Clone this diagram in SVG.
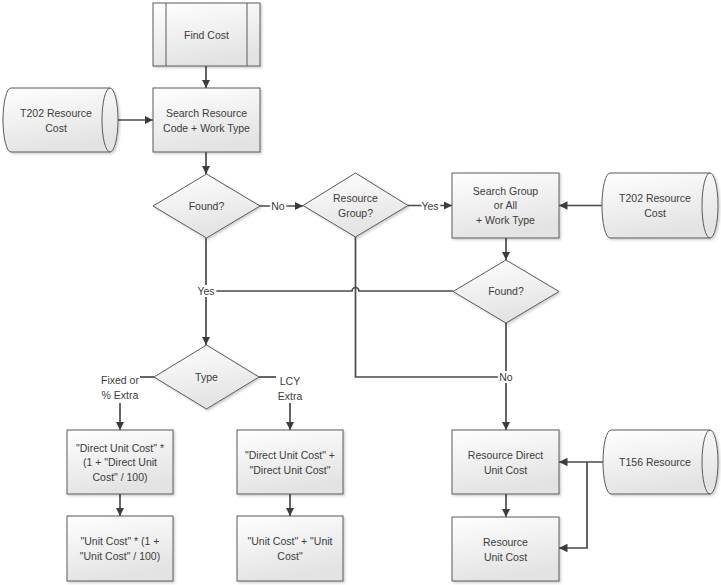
<svg xmlns="http://www.w3.org/2000/svg" width="721" height="585" viewBox="0 0 721 585">
<style>
.shape{fill:url(#g);stroke:#5a5a5a;stroke-width:1;filter:url(#sh)}
.inner{fill:none;stroke:#5a5a5a;stroke-width:1}
.t{font-family:"Liberation Sans",Arial,sans-serif;font-size:10.5px;fill:#3c3c3c;text-anchor:middle}
.c{fill:none;stroke:#4a4a4a;stroke-width:1.7}
.lbl{font-family:"Liberation Sans",Arial,sans-serif;font-size:10.5px;fill:#3c3c3c;text-anchor:middle;stroke:#fff;stroke-width:4;paint-order:stroke}
</style>
<defs>
<linearGradient id="g" x1="0" y1="0" x2="0.3" y2="1">
<stop offset="0" stop-color="#ffffff"/>
<stop offset="1" stop-color="#e3e3e3"/>
</linearGradient>
<filter id="sh" x="-10%" y="-10%" width="130%" height="130%">
<feDropShadow dx="1.5" dy="1.5" stdDeviation="1" flood-color="#000" flood-opacity="0.2"/>
</filter>
<marker id="a" viewBox="0 0 10 10" refX="10" refY="5" markerWidth="5" markerHeight="5" orient="auto" markerUnits="strokeWidth">
<path d="M0,0 L10,5 L0,10 Z" fill="#3c3c3c"/>
</marker>
</defs>
<rect width="721" height="585" fill="#fff"/>

<g id="connectors">
<path class="c" d="M206,66 V88" marker-end="url(#a)"/>
<path class="c" d="M110,120 H153" marker-end="url(#a)"/>
<path class="c" d="M206,152 V174" marker-end="url(#a)"/>
<path class="c" d="M260,206 H303" marker-end="url(#a)"/>
<path class="c" d="M408,205.5 H452" marker-end="url(#a)"/>
<path class="c" d="M602,205.5 H559" marker-end="url(#a)"/>
<path class="c" d="M506,238 V260" marker-end="url(#a)"/>
<path class="c" d="M206,238 V345" marker-end="url(#a)"/>
<path class="c" d="M453,291 H359 A3.5 3.5 0 0 0 352,291 H206"/>
<path class="c" d="M355.5,237 V377 H506"/>
<path class="c" d="M506,323 V430" marker-end="url(#a)"/>
<path class="c" d="M154,377 H140"/>
<path class="c" d="M120,403 V430" marker-end="url(#a)"/>
<path class="c" d="M259,377 H276"/>
<path class="c" d="M290,403 V430" marker-end="url(#a)"/>
<path class="c" d="M120,494 V516" marker-end="url(#a)"/>
<path class="c" d="M290,494 V516" marker-end="url(#a)"/>
<path class="c" d="M506,494 V517" marker-end="url(#a)"/>
<path class="c" d="M603,462 H559" marker-end="url(#a)"/>
<path class="c" d="M587,462 V548 H559" marker-end="url(#a)"/>
<text class="lbl" x="278" y="210">No</text>
<text class="lbl" x="430" y="209.5">Yes</text>
<text class="lbl" x="206" y="295">Yes</text>
<text class="lbl" x="506" y="381">No</text>
<text class="t" x="120" y="384">Fixed or</text>
<text class="t" x="120" y="399">% Extra</text>
<text class="t" x="290" y="385">LCY</text>
<text class="t" x="290" y="400">Extra</text>
</g>

<g id="find-cost">
<rect class="shape" x="153" y="3" width="107" height="63"/>
<path class="inner" d="M166,3 V66 M247,3 V66"/>
<text class="t" x="206.5" y="38.5">Find Cost</text>
</g>

<g id="t202-left">
<path class="shape" d="M11,88 H110 A8 32 0 0 1 110,152 H11 A8 32 0 0 1 11,88 Z"/>
<path class="inner" d="M110,88 A8 32 0 0 0 110,152"/>
<text class="t" x="56" y="116.5">T202 Resource</text>
<text class="t" x="56" y="131.5">Cost</text>
</g>

<g id="search-resource">
<rect class="shape" x="153" y="88" width="107" height="64"/>
<text class="t" x="206.5" y="116.5">Search Resource</text>
<text class="t" x="206.5" y="131.5">Code + Work Type</text>
</g>

<g id="found1">
<path class="shape" d="M206.5,174 L260,206 L206.5,238 L153,206 Z"/>
<text class="t" x="206.5" y="209.5">Found?</text>
</g>

<g id="resource-group">
<path class="shape" d="M355.5,173 L408,205.5 L355.5,237 L303,205.5 Z"/>
<text class="t" x="355.5" y="201.5">Resource</text>
<text class="t" x="355.5" y="216.5">Group?</text>
</g>

<g id="search-group">
<rect class="shape" x="452" y="173" width="107" height="65"/>
<text class="t" x="505.5" y="194.5">Search Group</text>
<text class="t" x="505.5" y="209">or All</text>
<text class="t" x="505.5" y="223.5">+ Work Type</text>
</g>

<g id="t202-right">
<path class="shape" d="M610,173 H710 A8 32.5 0 0 1 710,238 H610 A8 32.5 0 0 1 610,173 Z"/>
<path class="inner" d="M710,173 A8 32.5 0 0 0 710,238"/>
<text class="t" x="655" y="201.5">T202 Resource</text>
<text class="t" x="655" y="216.5">Cost</text>
</g>

<g id="found2">
<path class="shape" d="M506,260 L559,291.5 L506,323 L453,291.5 Z"/>
<text class="t" x="506" y="295">Found?</text>
</g>

<g id="type">
<path class="shape" d="M206.5,345 L259,377 L206.5,409 L154,377 Z"/>
<text class="t" x="206.5" y="380.5">Type</text>
</g>

<g id="fixed-direct">
<rect class="shape" x="67" y="430" width="106" height="64"/>
<text class="t" x="120" y="451.5">"Direct Unit Cost" *</text>
<text class="t" x="120" y="466">(1 + "Direct Unit</text>
<text class="t" x="120" y="480.5">Cost" / 100)</text>
</g>

<g id="fixed-unit">
<rect class="shape" x="67" y="516" width="106" height="65"/>
<text class="t" x="120" y="544.5">"Unit Cost" * (1 +</text>
<text class="t" x="120" y="559.5">"Unit Cost" / 100)</text>
</g>

<g id="lcy-direct">
<rect class="shape" x="237" y="430" width="106" height="64"/>
<text class="t" x="290" y="458.5">"Direct Unit Cost" +</text>
<text class="t" x="290" y="473.5">"Direct Unit Cost"</text>
</g>

<g id="lcy-unit">
<rect class="shape" x="237" y="516" width="106" height="65"/>
<text class="t" x="290" y="544.5">"Unit Cost" + "Unit</text>
<text class="t" x="290" y="559.5">Cost"</text>
</g>

<g id="resource-direct">
<rect class="shape" x="452" y="430" width="107" height="64"/>
<text class="t" x="505.5" y="458.5">Resource Direct</text>
<text class="t" x="505.5" y="473.5">Unit Cost</text>
</g>

<g id="resource-unit">
<rect class="shape" x="452" y="517" width="107" height="64"/>
<text class="t" x="505.5" y="545.5">Resource</text>
<text class="t" x="505.5" y="560.5">Unit Cost</text>
</g>

<g id="t156">
<path class="shape" d="M611,430 H710 A8 32 0 0 1 710,494 H611 A8 32 0 0 1 611,430 Z"/>
<path class="inner" d="M710,430 A8 32 0 0 0 710,494"/>
<text class="t" x="655" y="465.5">T156 Resource</text>
</g>
</svg>
